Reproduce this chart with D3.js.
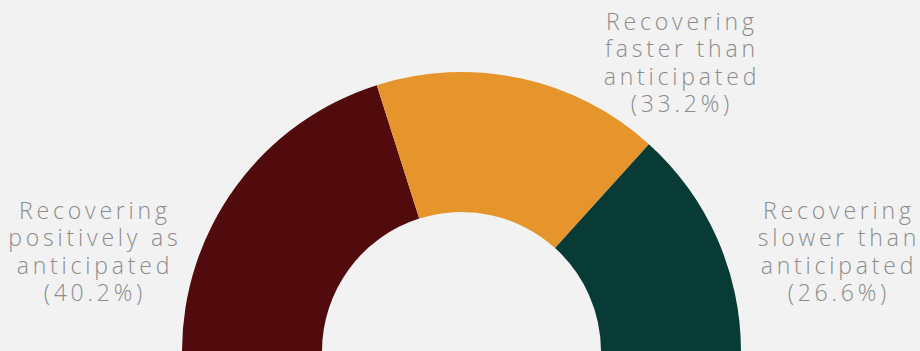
<!DOCTYPE html>
<html><head><meta charset="utf-8">
<script src="https://cdn.jsdelivr.net/npm/d3@7"></script>
<style>html,body{margin:0;padding:0;background:#f2f2f2;overflow:hidden}</style>
</head><body>
<svg id="c" width="920" height="351"></svg>
<script>
const categories = ["Recovering positively as anticipated", "Recovering faster than anticipated", "Recovering slower than anticipated"];
const values = [40.2, 33.2, 26.6];
const labelLines = [
  ["Recovering", "positively as", "anticipated", "(40.2%)"],
  ["Recovering", "faster than", "anticipated", "(33.2%)"],
  ["Recovering", "slower than", "anticipated", "(26.6%)"]
];
const colors = ["#520b0c", "#e6952d", "#083a36"];

const svg = d3.select("#c");
svg.append("rect").attr("width", 920).attr("height", 351).attr("fill", "#f2f2f2");
const cx = 461.5, cy = 351.5, R = 279.5, r = 139.5;
const pie = d3.pie().sort(null).value(d => d).startAngle(-Math.PI/2).endAngle(Math.PI/2);
const arc = d3.arc().innerRadius(r).outerRadius(R);
const g = svg.append("g").attr("transform", `translate(${cx},${cy})`);
g.selectAll("path").data(pie(values)).join("path")
  .attr("d", arc).attr("fill", (d,i) => colors[i]);

const labelPos = [[93, 218.5], [680, 29.5], [837, 218.5]];
const lh = 27.6, ls = 3.8;
labelLines.forEach((lines, i) => {
  const t = svg.append("text")
    .attr("text-anchor", "middle")
    .attr("fill", "#8c8c8c")
    .style("font-family", "'Open Sans', 'DejaVu Sans', sans-serif")
    .style("font-weight", 300)
    .style("font-size", "23px")
    .style("letter-spacing", ls + "px");
  lines.forEach((s, j) => {
    t.append("tspan").attr("x", labelPos[i][0] + ls/2).attr("y", labelPos[i][1] + j*lh).text(s);
  });
});
</script>
</body></html>
